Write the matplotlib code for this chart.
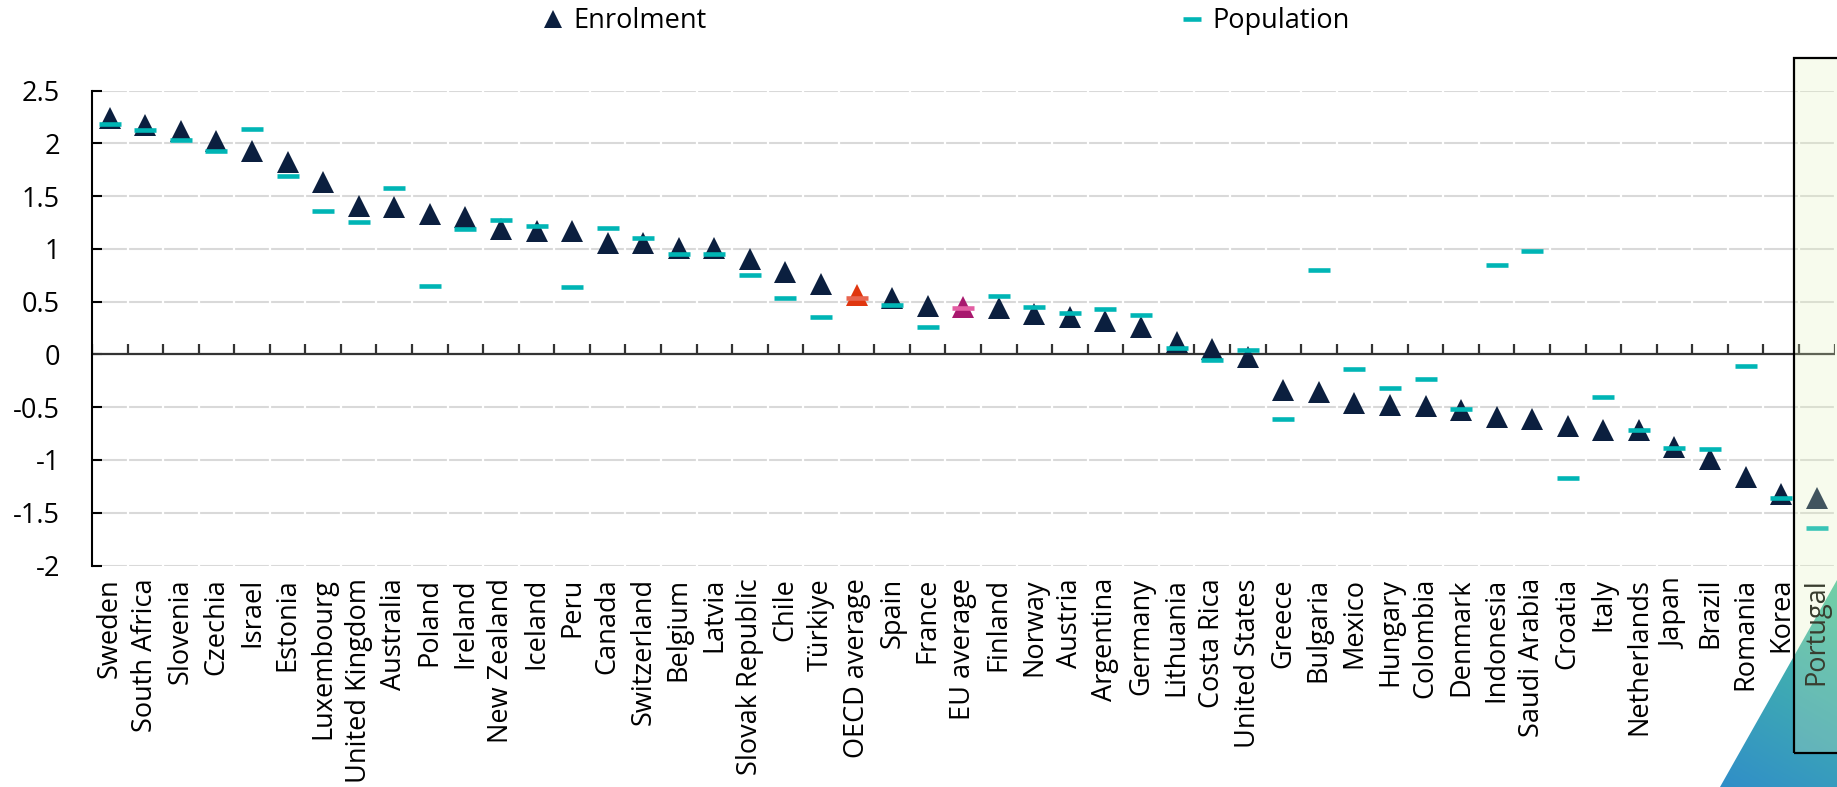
import matplotlib
matplotlib.use('Agg')
import matplotlib.pyplot as plt
import numpy as np
from matplotlib.lines import Line2D
from matplotlib.patches import Polygon, Rectangle

plt.rcParams['font.family'] = ['Open Sans', 'DejaVu Sans']
plt.rcParams['font.size'] = 19.5

countries = ['Sweden', 'South Africa', 'Slovenia', 'Czechia', 'Israel', 'Estonia',
             'Luxembourg', 'United Kingdom', 'Australia', 'Poland', 'Ireland',
             'New Zealand', 'Iceland', 'Peru', 'Canada', 'Switzerland', 'Belgium',
             'Latvia', 'Slovak Republic', 'Chile', 'Türkiye', 'OECD average', 'Spain',
             'France', 'EU average', 'Finland', 'Norway', 'Austria', 'Argentina',
             'Germany', 'Lithuania', 'Costa Rica', 'United States', 'Greece',
             'Bulgaria', 'Mexico', 'Hungary', 'Colombia', 'Denmark', 'Indonesia',
             'Saudi Arabia', 'Croatia', 'Italy', 'Netherlands', 'Japan', 'Brazil',
             'Romania', 'Korea', 'Portugal']

enrolment = [2.24, 2.17, 2.12, 2.02, 1.93, 1.82, 1.63, 1.41, 1.40, 1.33, 1.30,
             1.19, 1.17, 1.17, 1.06, 1.06, 1.01, 1.01, 0.90, 0.78, 0.67, 0.56,
             0.53, 0.46, 0.45, 0.44, 0.38, 0.35, 0.32, 0.26, 0.12, 0.05, -0.02,
             -0.34, -0.36, -0.46, -0.48, -0.49, -0.53, -0.59, -0.61, -0.68, -0.72,
             -0.72, -0.88, -0.99, -1.16, -1.32, -1.36]

population = [2.18, 2.13, 2.03, 1.93, 2.14, 1.69, 1.36, 1.25, 1.58, 0.65, 1.19,
              1.27, 1.22, 0.64, 1.20, 1.10, 0.95, 0.95, 0.75, 0.53, 0.35, 0.53,
              0.47, 0.26, 0.44, 0.55, 0.45, 0.39, 0.43, 0.37, 0.06, -0.05, 0.04,
              -0.61, 0.80, -0.14, -0.32, -0.23, -0.52, 0.85, 0.98, -1.17, -0.40,
              -0.72, -0.89, -0.90, -0.11, -1.36, -1.64]

yticks = [-2, -1.5, -1, -0.5, 0, 0.5, 1, 1.5, 2, 2.5]

navy = '#0b1f3f'
teal = '#00b5b5'
# special colours for the averages: (triangle, dash)
special = {'OECD average': ('#e0360f', '#e8654f'),
           'EU average': ('#a8186e', '#e35ea3')}

W, H = 1837, 787
fig = plt.figure(figsize=(W / 100, H / 100), dpi=100)
ax = fig.add_axes([92 / W, 1 - 565.5 / H, (1834.5 - 92) / W, (565.5 - 90.5) / H])

x = np.arange(len(countries))
enr = np.array(enrolment)
pop = np.array(population)

tri_cols = [special.get(c, (navy, teal))[0] for c in countries]
dash_cols = [special.get(c, (navy, teal))[1] for c in countries]

for i in x:
    ax.plot(i, enr[i], marker='^', ms=16.5, mew=0, color=tri_cols[i], ls='none', zorder=4)
    ax.plot(i, pop[i], marker='_', ms=16.5, mew=3.3, color=dash_cols[i], ls='none', zorder=5)

ax.set_xlim(-0.5, len(countries) - 0.5)
ax.set_ylim(-2, 2.5)

# gridlines with small breaks at category boundaries
for v in yticks:
    ax.axhline(v, color='#d9d9d9', lw=1.5, zorder=0.3)
bounds = np.arange(len(countries) + 1) - 0.5
ax.vlines(bounds, -2, 2.5, color='white', lw=1.6, zorder=0.4)

# horizontal axis line at zero with upward ticks between categories
ax.axhline(0, color='#333333', lw=1.6, zorder=2)
ax.vlines(bounds, 0, 0.095, color='#333333', lw=1.6, zorder=2)

for s in ['top', 'right', 'bottom']:
    ax.spines[s].set_visible(False)
ax.spines['left'].set_linewidth(1.5)
ax.spines['left'].set_color('black')

ax.set_yticks(yticks)
ax.set_yticklabels([f'{v:g}' for v in yticks])
ax.tick_params(axis='y', direction='in', length=7, width=1.5, pad=23)
ax.set_xticks(x)
ax.set_xticklabels(countries, rotation=90, fontsize=19.5)
ax.tick_params(axis='x', length=0, pad=9)

handles = [Line2D([], [], marker='^', ms=13.5, mew=0, color=navy, ls='none'),
           Line2D([], [], marker='_', ms=13.5, mew=3.3, color=teal, ls='none')]
fig.legend(handles, ['Enrolment', 'Population'], loc='center',
           bbox_to_anchor=(0.515, 0.973), ncol=2, frameon=False,
           columnspacing=17.5, handlelength=0.8, handletextpad=0.35)

# decorative gradient corner, behind the tick labels
gax = fig.add_axes([0, 0, 1, 1], zorder=-1)
gax.set_xlim(0, W)
gax.set_ylim(H, 0)
gax.axis('off')
gx, gy = np.meshgrid(np.linspace(1700, W, 200), np.linspace(570, H, 300))
p0 = np.array([1837.0, 580.0])
p1 = np.array([1720.0, 787.0])
d = p1 - p0
t = np.clip(((gx - p0[0]) * d[0] + (gy - p0[1]) * d[1]) / (d @ d), 0, 1)
c0 = np.array([0x4c, 0xc4, 0xa0]) / 255
c1 = np.array([0x30, 0x8e, 0xc8]) / 255
img = c0 + t[..., None] * (c1 - c0)
im = gax.imshow(img, extent=(1700, W, H, 570), aspect='auto', zorder=1)
tri = Polygon([(1720, H), (W, 580), (W, H)], closed=True, fc='none', ec='none')
gax.add_patch(tri)
im.set_clip_path(tri)

# highlight box for Portugal
bx, by0, by1 = 1794 / W, 1 - 753 / H, 1 - 58 / H
fig.add_artist(Rectangle((bx, by0), 0.2, by1 - by0, transform=fig.transFigure,
                         fc=(227 / 255, 243 / 255, 187 / 255), alpha=0.25, ec='none', zorder=10))
fig.add_artist(Rectangle((bx, by0), 0.2, by1 - by0, transform=fig.transFigure,
                         fc='none', ec='black', lw=1.6, zorder=11))

fig.savefig('out.png', dpi=100)
